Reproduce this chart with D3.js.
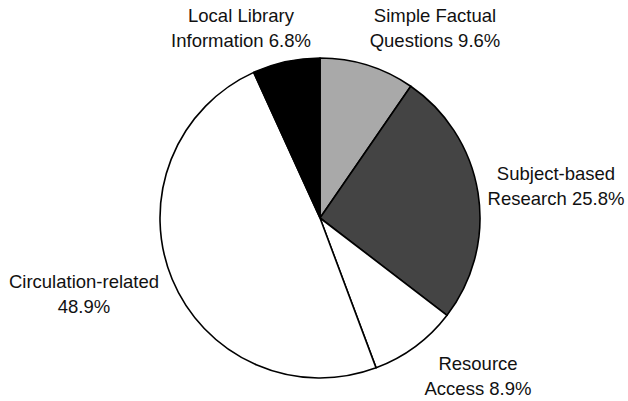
<!DOCTYPE html>
<html><head><meta charset="utf-8">
<script src="https://cdn.jsdelivr.net/npm/d3@7"></script>
<style>body{margin:0;background:#fff}text{font-family:"Liberation Sans",Arial,Helvetica,sans-serif;}</style>
</head><body>
<svg id="chart" width="628" height="401"></svg>
<script>
const categories = ["Simple Factual Questions","Subject-based Research","Resource Access","Circulation-related","Local Library Information"];
const values = [9.6, 25.8, 8.9, 48.9, 6.8];
const labelLines = [["Simple Factual","Questions 9.6%"],["Subject-based","Research 25.8%"],["Resource","Access 8.9%"],["Circulation-related","48.9%"],["Local Library","Information 6.8%"]];
const colors = ["#a9a9a9","#444444","#ffffff","#ffffff","#000000"];
const labelPos = [[435,22],[556,180],[478,370],[84,288],[241,22]];

const svg = d3.select("#chart");
const cx = 320, cy = 218, r = 160;
const pie = d3.pie().sort(null).value(d => d)(values);
const arc = d3.arc().innerRadius(0).outerRadius(r);
const g = svg.append("g").attr("transform", `translate(${cx},${cy})`);
g.selectAll("path").data(pie).join("path")
  .attr("d", arc)
  .attr("fill", (d,i) => colors[i])
  .attr("stroke", "#000").attr("stroke-width", 1.6).attr("stroke-linejoin","round");

labelLines.forEach((lines, i) => {
  const t = svg.append("text").attr("text-anchor","middle").attr("font-size", 18.5).attr("fill","#111")
    .attr("x", labelPos[i][0]).attr("y", labelPos[i][1]);
  lines.forEach((l, j) => t.append("tspan").attr("x", labelPos[i][0]).attr("dy", j ? 25 : 0).text(l));
});
</script>
</body></html>
